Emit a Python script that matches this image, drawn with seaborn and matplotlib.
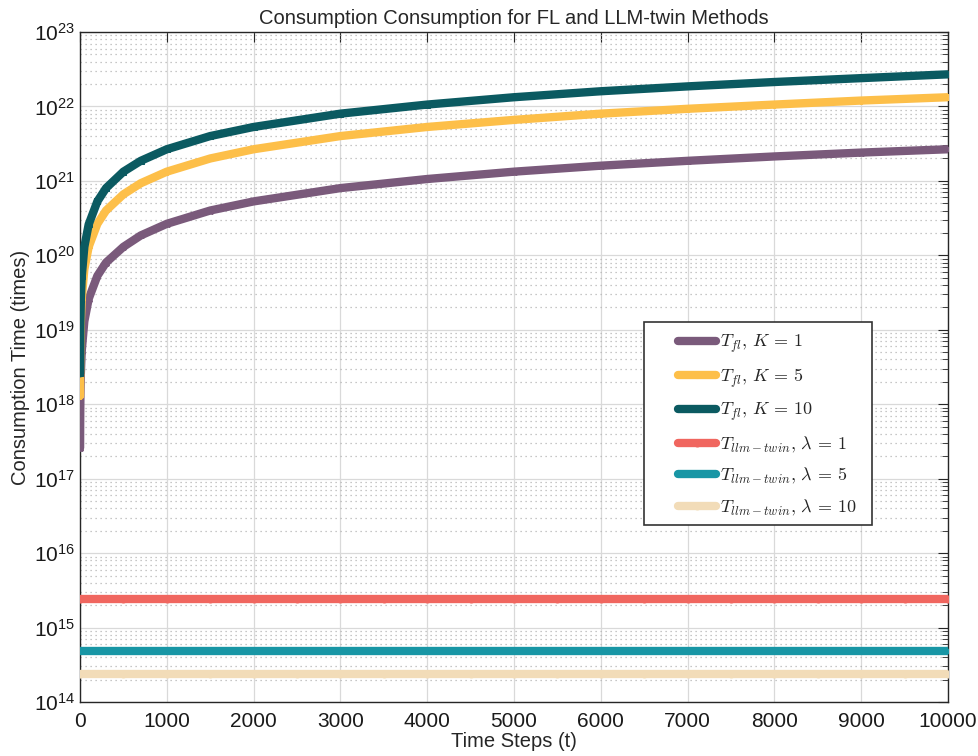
import numpy as np
import pandas as pd
import matplotlib
matplotlib.use("Agg")
import matplotlib.pyplot as plt
import seaborn as sns
from matplotlib.ticker import LogLocator, MultipleLocator, NullFormatter
from matplotlib.patches import Rectangle

# ---- data ----
t_fl = [1, 2, 3, 4, 5, 10, 20, 50, 100, 200, 300, 500, 700, 1000, 1500, 2000,
        3000, 4000, 5000, 6000, 7000, 8000, 9000, 10000]
fl_k1 = [2.6e17, 5.2e17, 7.8e17, 1.04e18, 1.3e18, 2.6e18, 5.2e18, 1.3e19, 2.6e19,
         5.3e19, 8.0e19, 1.3e20, 1.85e20, 2.65e20, 4.0e20, 5.3e20, 8.0e20, 1.06e21,
         1.33e21, 1.6e21, 1.86e21, 2.13e21, 2.4e21, 2.66e21]
fl_k5 = [1.3e18, 2.6e18, 3.9e18, 5.2e18, 6.5e18, 1.3e19, 2.6e19, 6.5e19, 1.3e20,
         2.65e20, 4.0e20, 6.6e20, 9.3e20, 1.33e21, 2.0e21, 2.66e21, 4.0e21, 5.3e21,
         6.6e21, 8.0e21, 9.3e21, 1.06e22, 1.2e22, 1.33e22]
fl_k10 = [2.6e18, 5.2e18, 7.8e18, 1.04e19, 1.3e19, 2.6e19, 5.2e19, 1.3e20, 2.6e20,
          5.3e20, 8.0e20, 1.33e21, 1.86e21, 2.66e21, 4.0e21, 5.3e21, 8.0e21, 1.06e22,
          1.33e22, 1.6e22, 1.86e22, 2.13e22, 2.4e22, 2.7e22]
t_llm = [1, 500, 1000, 1500, 2000, 2500, 3000, 3500, 4000, 4500, 5000, 5500, 6000,
         6500, 7000, 7500, 8000, 8500, 9000, 9500, 10000]
llm_l1 = [2.4e15] * len(t_llm)
llm_l5 = [4.8e14] * len(t_llm)
llm_l10 = [2.4e14] * len(t_llm)

labels = [r"$T_{fl},\, K\,=\,1$", r"$T_{fl},\, K\,=\,5$", r"$T_{fl},\, K\,=\,10$",
          r"$T_{llm-twin},\, \lambda\,=\,1$", r"$T_{llm-twin},\, \lambda\,=\,5$",
          r"$T_{llm-twin},\, \lambda\,=\,10$"]
colors = ["#7a5a7b", "#fdbf49", "#0b5a61", "#f0665f", "#1896a5", "#f2dcb8"]
markers = ["X", "P", "s", "o", "X", "o"]

sns.set_style("white")
plt.rcParams["font.family"] = ["Liberation Sans", "DejaVu Sans"]
plt.rcParams["mathtext.fontset"] = "cm"

fig = plt.figure(figsize=(9.79, 7.56), dpi=100)
ax = fig.add_axes([80/979, 1 - 702/756, 868/979, 670/756])

series = [(t_fl, fl_k1), (t_fl, fl_k5), (t_fl, fl_k10),
          (t_llm, llm_l1), (t_llm, llm_l5), (t_llm, llm_l10)]
for (tx, ty), lab, c, m in zip(series, labels, colors, markers):
    sns.lineplot(x=tx, y=ty, ax=ax, color=c, marker=m, markersize=5,
                 markeredgecolor=c, linewidth=6, label=lab, zorder=3)

ax.set_yscale("log")
ax.set_xlim(0, 10000)
ax.set_ylim(1e14, 1e23)
ax.xaxis.set_major_locator(MultipleLocator(1000))
ax.yaxis.set_major_locator(LogLocator(base=10, numticks=20))
ax.yaxis.set_minor_locator(LogLocator(base=10, subs=np.arange(2, 10), numticks=20))
ax.yaxis.set_minor_formatter(NullFormatter())

ax.grid(True, which="major", axis="both", color="#d9d9d9", linewidth=0.9, linestyle="-")
ax.grid(True, which="minor", axis="y", color="#b5b5b5", linewidth=0.9, linestyle=(0, (1, 3)))
ax.set_axisbelow(True)

for s in ax.spines.values():
    s.set_color("#262626")
    s.set_linewidth(1.0)
ax.tick_params(which="both", direction="in", top=True, right=True, colors="#262626",
               labelcolor="#1a1a1a", labelsize=15)
ax.tick_params(axis="x", pad=7)
ax.tick_params(which="major", length=7)
ax.tick_params(which="minor", length=4)
ax.xaxis.get_offset_text().set_visible(False)
ax.yaxis.get_offset_text().set_visible(False)

ax.set_title("Consumption Consumption for FL and LLM-twin Methods", fontsize=14.5, pad=6)
ax.set_xlabel("Time Steps (t)", fontsize=14.5, labelpad=1)
ax.set_ylabel("Consumption Time (times)", fontsize=14.5, labelpad=3)

# legend frame drawn as a box (wide horizontal padding like the reference)
ax.add_patch(Rectangle((0.6498, 0.2642), 0.2627, 0.303, transform=ax.transAxes,
                       facecolor="white", edgecolor="#333333", linewidth=1.2,
                       zorder=5))
leg = ax.legend(loc="upper left", bbox_to_anchor=(0.689, 0.551), fontsize=13,
                frameon=False, borderpad=0, labelspacing=0.63, handlelength=2.1,
                handletextpad=0.2, borderaxespad=0)
leg.set_zorder(6)

fig.savefig("out.png", dpi=100)
